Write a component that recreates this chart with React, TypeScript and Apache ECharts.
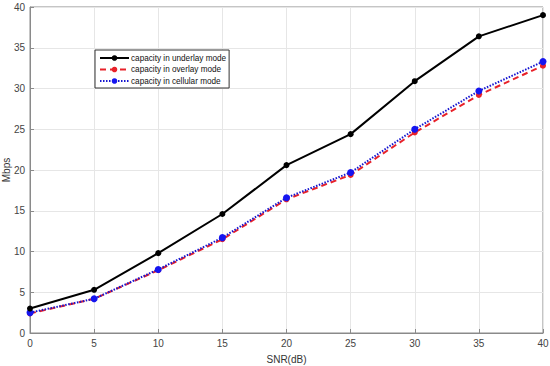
import React, { useEffect, useRef } from "react";
import * as echarts from "echarts";

const snr = [0, 5, 10, 15, 20, 25, 30, 35, 40];
const underlay = [3.0, 5.3, 9.8, 14.6, 20.6, 24.4, 30.9, 36.4, 39.0];
const overlay = [2.4, 4.2, 7.7, 11.5, 16.4, 19.4, 24.6, 29.2, 32.8];
const cellular = [2.5, 4.2, 7.8, 11.7, 16.6, 19.7, 25.0, 29.7, 33.3];

const pairs = (ys: number[]) => snr.map((x, i) => [x, ys[i]]);

export default function App() {
  const ref = useRef<HTMLDivElement>(null);
  useEffect(() => {
    if (!ref.current) return;
    const chart = echarts.init(ref.current, undefined, { renderer: "svg" });
    const font = "Liberation Sans, Arial, sans-serif";
    chart.setOption({
      animation: false,
      backgroundColor: "#fff",
      textStyle: { fontFamily: font },
      grid: {
        left: 30,
        right: 7,
        top: 7,
        bottom: 33,
        outerBoundsMode: "none",
        containLabel: false,
        show: true,
        borderColor: "#8a8a8a",
        borderWidth: 1,
      },
      legend: {
        orient: "vertical",
        left: 95,
        top: 50,
        itemWidth: 29,
        itemHeight: 7,
        itemGap: 3.5,
        padding: [4, 3, 3, 4],
        borderColor: "#333",
        borderWidth: 1,
        backgroundColor: "#fff",
        textStyle: { fontSize: 8.2, color: "#111", fontFamily: font, padding: [0, 0, 0, -3] },
        data: ["capacity in underlay mode", "capacity in overlay mode", "capacity in cellular mode"],
      },
      xAxis: {
        type: "value",
        min: 0,
        max: 40,
        interval: 5,
        name: "SNR(dB)",
        nameLocation: "middle",
        nameGap: 21,
        nameMoveOverlap: false,
        nameTextStyle: { fontSize: 10, color: "#333" },
        axisLine: { show: true, lineStyle: { color: "#8a8a8a" } },
        axisTick: { inside: true, length: 4, lineStyle: { color: "#8a8a8a" } },
        axisLabel: { fontSize: 10, color: "#444", margin: 5 },
        splitLine: { show: true, lineStyle: { color: "#e6e6e6" } },
      },
      yAxis: {
        type: "value",
        min: 0,
        max: 40,
        interval: 5,
        name: "Mbps",
        nameLocation: "middle",
        nameGap: 18.5,
        nameMoveOverlap: false,
        nameTextStyle: { fontSize: 10, color: "#333" },
        axisLine: { show: true, lineStyle: { color: "#8a8a8a" } },
        axisTick: { inside: true, length: 4, lineStyle: { color: "#8a8a8a" } },
        axisLabel: { fontSize: 10, color: "#444", margin: 5 },
        splitLine: { show: true, lineStyle: { color: "#e6e6e6" } },
      },
      series: [
        {
          name: "capacity in overlay mode",
          type: "line",
          data: pairs(overlay),
          symbol: "circle",
          symbolSize: 6,
          itemStyle: { color: "#e8222a" },
          lineStyle: { color: "#e8222a", width: 2, type: [6, 4] },
          z: 2,
        },
        {
          name: "capacity in cellular mode",
          type: "line",
          data: pairs(cellular),
          symbol: "circle",
          symbolSize: 7,
          itemStyle: { color: "#1515f0" },
          lineStyle: { color: "#1515d0", width: 2, type: [1.5, 1.5] },
          z: 3,
        },
        {
          name: "capacity in underlay mode",
          type: "line",
          data: pairs(underlay),
          symbol: "circle",
          symbolSize: 6,
          itemStyle: { color: "#000" },
          lineStyle: { color: "#000", width: 2 },
          z: 4,
        },
      ],
    });
    return () => chart.dispose();
  }, []);
  return <div ref={ref} style={{ width: 550, height: 366, position: "absolute", left: 0, top: 0 }} />;
}
